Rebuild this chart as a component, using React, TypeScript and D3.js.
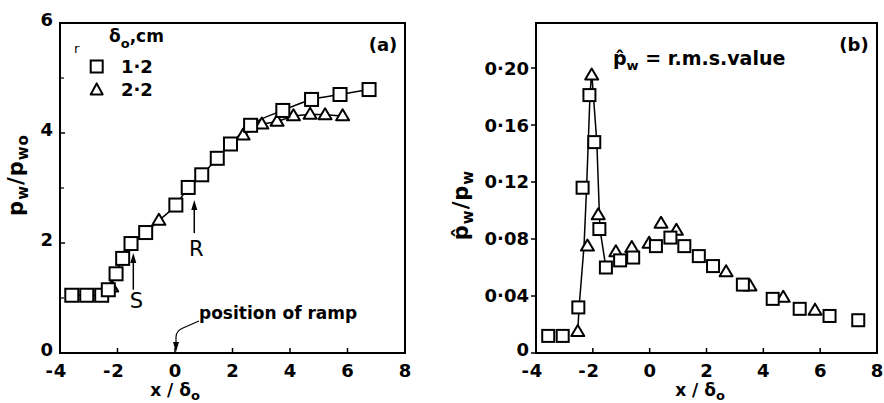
import React from 'react';
import * as d3 from 'd3';

// ---------- data: panel (a) mean wall pressure ----------
const sqAX = [-3.59, -3.07, -2.55, -2.32, -2.05, -1.82, -1.53, -1.02, 0.03, 0.46, 0.93, 1.47, 1.93, 2.63, 3.75, 4.75, 5.74, 6.75];
const sqAY = [1.05, 1.05, 1.05, 1.15, 1.44, 1.72, 1.99, 2.19, 2.69, 3.01, 3.24, 3.54, 3.8, 4.14, 4.41, 4.61, 4.7, 4.79];
const triAX = [-2.2, -0.56, 2.37, 3.02, 3.55, 4.12, 4.7, 5.22, 5.83];
const triAY = [1.2, 2.41, 3.96, 4.16, 4.21, 4.31, 4.34, 4.33, 4.31];

// ---------- data: panel (b) rms wall pressure ----------
const sqBX = [-3.57, -3.06, -2.51, -2.36, -2.12, -1.95, -1.77, -1.54, -1.04, -0.58, 0.22, 0.73, 1.22, 1.73, 2.23, 3.28, 4.33, 5.28, 6.33, 7.34];
const sqBY = [0.012, 0.012, 0.032, 0.116, 0.181, 0.148, 0.087, 0.06, 0.065, 0.067, 0.075, 0.081, 0.075, 0.068, 0.061, 0.048, 0.038, 0.031, 0.026, 0.023];
const triBX = [-2.53, -2.19, -2.04, -1.81, -1.19, -0.63, -0.02, 0.4, 0.94, 2.69, 3.53, 4.7, 5.82];
const triBY = [0.015, 0.075, 0.195, 0.097, 0.071, 0.074, 0.077, 0.091, 0.086, 0.057, 0.047, 0.039, 0.03];
// hand-drawn fitted curve through the peak in (b)
const curveBX = [-2.53, -2.48, -2.31, -2.22, -2.1, -2.04, -1.86, -1.75, -1.54];
const curveBY = [0.016, 0.033, 0.075, 0.116, 0.181, 0.197, 0.148, 0.087, 0.06];

// ---------- ticks ----------
const xTicks = [-4, -2, 0, 2, 4, 6, 8];
const yTicksA = [0, 2, 4, 6];
const yMinorA = [1, 3, 5];
const yTicksB = [0, 0.04, 0.08, 0.12, 0.16, 0.2];
const yTickLabelsB = ['0', '0·04', '0·08', '0·12', '0·16', '0·20'];
const legendLabels = ['1·2', '2·2'];

const FONT = 'DejaVu Sans';

function Square({ cx, cy, s }: { cx: number; cy: number; s: number }) {
  return <rect x={cx - s / 2} y={cy - s / 2} width={s} height={s} fill="white" stroke="black" strokeWidth={2} />;
}
function Tri({ cx, cy, w, h }: { cx: number; cy: number; w: number; h: number }) {
  const p = `M${cx},${cy - h * 0.6} L${cx + w / 2},${cy + h * 0.4} L${cx - w / 2},${cy + h * 0.4} Z`;
  return <path d={p} fill="white" stroke="black" strokeWidth={2} strokeLinejoin="round" />;
}

function XTickLabel({ x, v }: { x: number; v: number }) {
  const s = String(Math.abs(v));
  return (
    <g fontFamily={FONT} fontWeight="bold" fontSize={18}>
      <text x={x} y={377} textAnchor="middle">{s}</text>
      {v < 0 && <text x={x - 7} y={377} textAnchor="end">-</text>}
    </g>
  );
}

export default function App() {
  const xA = d3.scaleLinear().domain([-4, 8]).range([60, 405]);
  const yA = d3.scaleLinear().domain([0, 6]).range([353, 23]);
  const xB = d3.scaleLinear().domain([-4, 8]).range([536, 877]);
  const yB = d3.scaleLinear().domain([0, 0.2316]).range([353, 23]);

  // main curve of (a): squares plus the triangle lying between them
  const mainA = sqAX.map((x, i) => [x, sqAY[i]] as [number, number]);
  mainA.push([triAX[1], triAY[1]]);
  mainA.sort((a, b) => a[0] - b[0]);
  const triBranch = triAX.slice(2).map((x, i) => [x, triAY[i + 2]] as [number, number]);

  const lineA = d3.line<[number, number]>().x(d => xA(d[0])).y(d => yA(d[1])).curve(d3.curveMonotoneX);
  const lineBranch = d3.line<[number, number]>().x(d => xA(d[0])).y(d => yA(d[1]));
  const lineB = d3.line<[number, number]>().x(d => xB(d[0])).y(d => yB(d[1]));
  const curveB = curveBX.map((x, i) => [x, curveBY[i]] as [number, number]);

  // annotation anchors (data units)
  const sX = xA(-1.45), sTop = yA(1.82), sBot = yA(1.15);
  const rX = xA(0.67), rTop = yA(2.78), rBot = yA(2.18);
  const ramp = xA(0);

  return (
    <svg width={884} height={403} style={{ position: 'absolute', left: 0, top: 0, background: 'white' }}>
      <rect width={884} height={403} fill="white" />

      {/* ================= panel (a) ================= */}
      <rect x={60} y={23} width={345} height={330} fill="none" stroke="black" strokeWidth={2} />
      {xTicks.map(v => (
        <g key={'xa' + v}>
          <line x1={xA(v)} x2={xA(v)} y1={353} y2={348} stroke="black" strokeWidth={1.5} />
          <XTickLabel x={xA(v)} v={v} />
        </g>
      ))}
      {yTicksA.map(v => (
        <g key={'ya' + v}>
          <line x1={60} x2={65} y1={yA(v)} y2={yA(v)} stroke="black" strokeWidth={1.5} />
          <text x={53} y={yA(v) - 3} dy="0.36em" textAnchor="end" fontFamily={FONT} fontWeight="bold" fontSize={18}>{v}</text>
        </g>
      ))}
      {yMinorA.map(v => (
        <line key={'yma' + v} x1={60} x2={64} y1={yA(v)} y2={yA(v)} stroke="black" strokeWidth={1.2} />
      ))}

      <path d={lineA(mainA) || ''} fill="none" stroke="black" strokeWidth={1.5} />
      <path d={lineBranch(triBranch) || ''} fill="none" stroke="black" strokeWidth={1.5} />
      {triAX.map((x, i) => <Tri key={'ta' + i} cx={xA(x)} cy={yA(triAY[i])} w={13} h={11} />)}
      {sqAX.map((x, i) => <Square key={'sa' + i} cx={xA(x)} cy={yA(sqAY[i])} s={13} />)}

      {/* S arrow */}
      <line x1={sX} x2={sX} y1={sBot} y2={sTop + 6} stroke="black" strokeWidth={1.5} />
      <path d={`M${sX},${sTop} L${sX + 3},${sTop + 10} L${sX - 3},${sTop + 10} Z`} fill="black" />
      <text x={sX + 3} y={sBot + 18} textAnchor="middle" fontFamily={FONT} fontSize={21}>S</text>
      {/* R arrow */}
      <line x1={rX} x2={rX} y1={rBot} y2={rTop + 6} stroke="black" strokeWidth={1.5} />
      <path d={`M${rX},${rTop} L${rX + 3},${rTop + 10} L${rX - 3},${rTop + 10} Z`} fill="black" />
      <text x={rX + 2} y={rBot + 23} textAnchor="middle" fontFamily={FONT} fontSize={21}>R</text>
      {/* position of ramp */}
      <text x={ramp + 24} y={319} fontFamily={FONT} fontWeight="bold" fontSize={17}>position of ramp</text>
      <path d={`M${ramp + 24},${321} L${ramp + 8},${328} Q${ramp + 1},${331} ${ramp + 1},${337} L${ramp + 1},${343}`} fill="none" stroke="black" strokeWidth={1.2} />
      <path d={`M${ramp + 1},${352} L${ramp + 4},${342} L${ramp - 2},${342} Z`} fill="black" />

      {/* legend (a) */}
      <text x={74} y={53} fontFamily={FONT} fontSize={13}>r</text>
      <text x={109} y={42} fontFamily={FONT} fontWeight="bold" fontSize={17}>
        δ<tspan fontSize={13} dy={6}>o</tspan><tspan dy={-6}>,cm</tspan>
      </text>
      <Square cx={96.7} cy={66.5} s={12} />
      <Tri cx={96.7} cy={90} w={12} h={11} />
      {legendLabels.map((t, i) => (
        <text key={'lg' + i} x={121} y={66.5 + i * 23.5} dy="0.36em" fontFamily={FONT} fontWeight="bold" fontSize={18}>{t}</text>
      ))}
      <text x={383} y={51} textAnchor="middle" fontFamily={FONT} fontWeight="bold" fontSize={18}>(a)</text>

      {/* axis labels (a) */}
      <text transform="translate(23,175) rotate(-90)" textAnchor="middle" fontFamily={FONT} fontWeight="bold" fontSize={21} letterSpacing={1}>
        p<tspan fontSize={15} dy={5}>w</tspan><tspan dy={-5}>/p</tspan><tspan fontSize={15} dy={5}>wo</tspan>
      </text>
      <text x={175} y={396} textAnchor="middle" fontFamily={FONT} fontWeight="bold" fontSize={17}>
        x / δ<tspan fontSize={13} dy={4}>o</tspan>
      </text>

      {/* ================= panel (b) ================= */}
      <rect x={536} y={23} width={341} height={330} fill="none" stroke="black" strokeWidth={2} />
      {xTicks.map(v => (
        <g key={'xb' + v}>
          <line x1={xB(v)} x2={xB(v)} y1={353} y2={348} stroke="black" strokeWidth={1.5} />
          <XTickLabel x={xB(v)} v={v} />
        </g>
      ))}
      {yTicksB.map((v, i) => (
        <g key={'yb' + v}>
          <line x1={531} x2={536} y1={yB(v)} y2={yB(v)} stroke="black" strokeWidth={1.5} />
          <text x={529} y={yB(v) - (v === 0 ? 3 : 0)} dy="0.36em" textAnchor="end" fontFamily={FONT} fontWeight="bold" fontSize={18}>{yTickLabelsB[i]}</text>
        </g>
      ))}

      <path d={lineB(curveB) || ''} fill="none" stroke="black" strokeWidth={1.5} />
      {triBX.map((x, i) => <Tri key={'tb' + i} cx={xB(x)} cy={yB(triBY[i])} w={13} h={11} />)}
      {sqBX.map((x, i) => <Square key={'sb' + i} cx={xB(x)} cy={yB(sqBY[i])} s={12} />)}

      <text x={613} y={65} fontFamily={FONT} fontWeight="bold" fontSize={19}>
        p̂<tspan fontSize={13} dy={5}>w</tspan><tspan dy={-5}> = r.m.s.value</tspan>
      </text>
      <text x={854} y={51} textAnchor="middle" fontFamily={FONT} fontWeight="bold" fontSize={18}>(b)</text>

      {/* axis labels (b) */}
      <text transform="translate(468,205) rotate(-90)" textAnchor="middle" fontFamily={FONT} fontWeight="bold" fontSize={21} letterSpacing={1}>
        p̂<tspan fontSize={15} dy={5}>w</tspan><tspan dy={-5}>/p</tspan><tspan fontSize={15} dy={5}>w</tspan>
      </text>
      <text x={700} y={396} textAnchor="middle" fontFamily={FONT} fontWeight="bold" fontSize={17}>
        x / δ<tspan fontSize={13} dy={4}>o</tspan>
      </text>
    </svg>
  );
}
